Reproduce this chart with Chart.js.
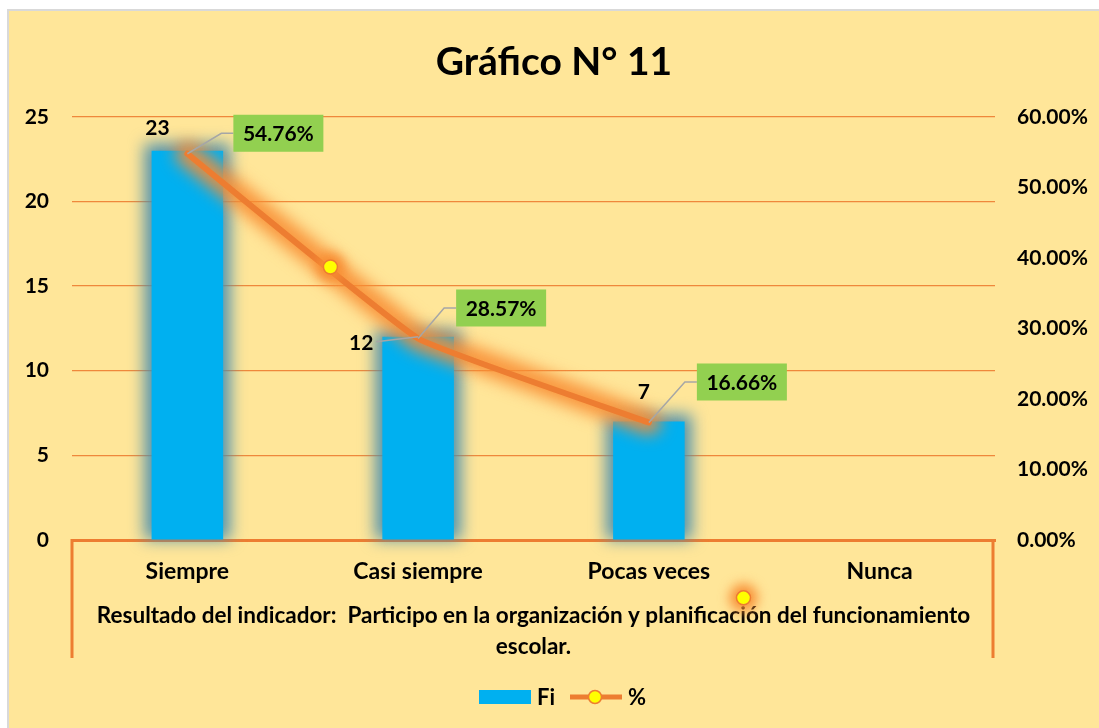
<!DOCTYPE html>
<html><head><meta charset="utf-8">
<script src="https://cdn.jsdelivr.net/npm/chart.js@4.4.1/dist/chart.umd.min.js"></script>
<style>
html,body{margin:0;padding:0;background:#fff;width:1099px;height:728px;overflow:hidden;}
#frame{position:absolute;left:7px;top:9px;width:1090px;height:717px;border-left:2px solid #d9d9d9;border-top:2px solid #d9d9d9;background:#FFE699;}
#wrap{position:absolute;left:0;top:0;width:1090px;height:717px;}
</style></head><body>
<div id="frame"><div id="wrap"><canvas id="c"></canvas></div></div>
<script>
const categories = ['Siempre', 'Casi siempre', 'Pocas veces', 'Nunca'];
const fiValues = [23, 12, 7, 0];
const pctValues = [54.76, 28.57, 16.66, null];
const markerPoints = [{x: 0.62, y: 38.7}, {x: 2.41, y: -8.2}];
const chartTitle = 'Gráfico N° 11';
const axisTitle = ['Resultado del indicador:  Participo en la organización y planificación del funcionamiento', 'escolar.'];
const seriesNames = ['Fi', '%'];

const FONT = 'Lato, "Open Sans", sans-serif';
const ORANGE = '#ED7D31';
const BLUE = '#00B0F0';
const YELLOW = '#FFFF00';

function drawMarker(ctx, x, y) {
  ctx.save();
  ctx.filter = 'blur(6px)';
  ctx.fillStyle = 'rgba(248,140,50,0.95)';
  ctx.beginPath(); ctx.arc(x, y, 14, 0, Math.PI * 2); ctx.fill();
  ctx.restore();
  ctx.save();
  ctx.beginPath(); ctx.arc(x, y, 7, 0, Math.PI * 2);
  ctx.fillStyle = YELLOW; ctx.fill(); ctx.lineWidth = 1.5; ctx.strokeStyle = ORANGE; ctx.stroke();
  ctx.restore();
}

const glowPlugin = {
  id: 'glow',
  beforeDatasetDraw(chart, args) {
    const ctx = chart.ctx;
    const ds = chart.data.datasets[args.index];
    const meta = args.meta;
    if (ds.glow === 'bar') {
      ctx.save();
      ctx.filter = 'blur(8px)';
      ctx.fillStyle = 'rgba(70,140,175,0.95)';
      meta.data.forEach(el => {
        if (Math.abs(el.base - el.y) < 1) return;
        ctx.fillRect(el.x - el.width / 2 - 7, el.y - 7, el.width + 14, el.base - el.y + 7);
      });
      ctx.restore();
    } else if (ds.glow === 'line') {
      ctx.save();
      ctx.filter = 'blur(8px)';
      ctx.strokeStyle = 'rgba(248,140,50,0.9)';
      ctx.lineWidth = 24; ctx.lineCap = 'round'; ctx.lineJoin = 'round';
      ctx.beginPath();
      let started = false;
      meta.data.forEach((el, i) => {
        if (pctValues[i] == null) return;
        if (!started) { ctx.moveTo(el.x, el.y); started = true; } else ctx.lineTo(el.x, el.y);
      });
      ctx.stroke();
      ctx.restore();
    }
  },
  afterDatasetsDraw(chart) {
    const xs = chart.scales.x2, ys = chart.scales.y1;
    markerPoints.forEach(p => drawMarker(chart.ctx, xs.getPixelForValue(p.x), ys.getPixelForValue(p.y)));
  }
};

const barLabelStyle = [{dx: -30, dy: -22}, {dx: -57, dy: 6, leader: true}, {dx: -5, dy: -29}, null];
const pctBoxStyle = [{dx: 46, dy: -39}, {dx: 38, dy: -49}, {dx: 48, dy: -59}, null];

const labelPlugin = {
  id: 'labels',
  afterDatasetsDraw(chart) {
    const ctx = chart.ctx;
    ctx.save();
    ctx.font = 'bold 21px ' + FONT;
    ctx.textBaseline = 'middle';
    const bars = chart.getDatasetMeta(0).data;
    bars.forEach((el, i) => {
      const st = barLabelStyle[i];
      if (!st) return;
      const txt = String(fiValues[i]);
      const cx = el.x + st.dx, cy = el.y + st.dy;
      if (st.leader) {
        const w = ctx.measureText(txt).width;
        ctx.strokeStyle = '#A6A6A6'; ctx.lineWidth = 1.5;
        ctx.beginPath(); ctx.moveTo(cx + w / 2 + 3, cy - 1); ctx.lineTo(el.x, el.y); ctx.stroke();
      }
      ctx.fillStyle = '#000'; ctx.textAlign = 'center';
      ctx.fillText(txt, cx, cy);
    });
    const pts = chart.getDatasetMeta(1).data;
    pts.forEach((el, i) => {
      const st = pctBoxStyle[i];
      if (!st || pctValues[i] == null) return;
      const bx = el.x + st.dx, by = el.y + st.dy, bw = 90, bh = 37;
      ctx.strokeStyle = '#A6A6A6'; ctx.lineWidth = 1.5;
      ctx.beginPath(); ctx.moveTo(el.x, el.y); ctx.lineTo(bx - 12, by + bh / 2); ctx.lineTo(bx, by + bh / 2); ctx.stroke();
      ctx.fillStyle = '#92D050'; ctx.fillRect(bx, by, bw, bh);
      ctx.fillStyle = '#000'; ctx.textAlign = 'center';
      ctx.fillText(pctValues[i].toFixed(2) + '%', bx + bw / 2, by + bh / 2 + 1);
    });
    ctx.restore();
  },
  afterDraw(chart) {
    const ctx = chart.ctx, a = chart.chartArea;
    ctx.save();
    ctx.strokeStyle = ORANGE; ctx.lineWidth = 3;
    ctx.beginPath();
    ctx.moveTo(a.left, a.bottom - 1); ctx.lineTo(a.left, 647);
    ctx.moveTo(a.right - 2, a.bottom - 1); ctx.lineTo(a.right - 2, 647);
    ctx.stroke();
    const ly = 686;
    ctx.fillStyle = BLUE; ctx.fillRect(470, ly - 7, 52, 14);
    ctx.font = 'bold 22px ' + FONT; ctx.textBaseline = 'middle'; ctx.textAlign = 'left';
    ctx.fillStyle = '#000'; ctx.fillText(seriesNames[0], 528, ly + 1);
    ctx.strokeStyle = ORANGE; ctx.lineWidth = 5;
    ctx.beginPath(); ctx.moveTo(561, ly); ctx.lineTo(613, ly); ctx.stroke();
    ctx.beginPath(); ctx.arc(586, ly, 6.5, 0, Math.PI * 2);
    ctx.fillStyle = YELLOW; ctx.fill(); ctx.lineWidth = 1.5; ctx.strokeStyle = ORANGE; ctx.stroke();
    ctx.fillStyle = '#000'; ctx.fillText(seriesNames[1], 619, ly + 1);
    ctx.restore();
  }
};

new Chart(document.getElementById('c'), {
  type: 'bar',
  data: {
    labels: categories,
    datasets: [
      {
        type: 'bar', label: seriesNames[0], data: fiValues, yAxisID: 'y', xAxisID: 'x',
        backgroundColor: BLUE, barPercentage: 0.31, categoryPercentage: 1, grouped: false, order: 3,
        glow: 'bar'
      },
      {
        type: 'line', label: seriesNames[1], data: pctValues, yAxisID: 'y1', xAxisID: 'x',
        borderColor: ORANGE, borderWidth: 6, pointRadius: 0, tension: 0.1, order: 2,
        glow: 'line', borderCapStyle: 'round'
      }
    ]
  },
  options: {
    responsive: true, maintainAspectRatio: false, animation: false, devicePixelRatio: 1,
    layout: {padding: 0},
    plugins: {
      legend: {display: false},
      tooltip: {enabled: false},
      title: {
        display: true, text: chartTitle, color: '#000',
        font: {family: FONT, size: 39, weight: 'bold', lineHeight: 1.2},
        padding: {top: 28, bottom: 31}
      }
    },
    scales: {
      x: {
        type: 'category', position: 'bottom', offset: true,
        grid: {display: false, drawTicks: false},
        border: {display: true, color: ORANGE, width: 3},
        ticks: {color: '#000', font: {family: FONT, size: 23, weight: 'bold'}, padding: 18, maxRotation: 0},
        title: {display: true, text: axisTitle, color: '#000',
          font: {family: FONT, size: 22.5, weight: 'bold', lineHeight: 1.38},
          padding: {top: 0, bottom: 66}},
        afterFit(s) { s.height = 188; }
      },
      x2: {
        type: 'linear', display: false, min: -0.5, max: 3.5, offset: false
      },
      y: {
        position: 'left', min: 0, max: 25,
        ticks: {stepSize: 5, color: '#000', font: {family: FONT, size: 21, weight: 'bold'}, padding: 23},
        grid: {color: 'rgba(237,125,49,0.9)', lineWidth: 1.2, drawTicks: false},
        border: {display: false},
        afterFit(s) { s.width = 63; }
      },
      y1: {
        position: 'right', min: 0, max: 60,
        ticks: {stepSize: 10, color: '#000', font: {family: FONT, size: 21, weight: 'bold'}, padding: 22,
          callback: v => v.toFixed(2) + '%'},
        grid: {display: false, drawTicks: false},
        border: {display: false},
        afterFit(s) { s.width = 104; }
      }
    }
  },
  plugins: [glowPlugin, labelPlugin]
});
</script>
</body></html>
